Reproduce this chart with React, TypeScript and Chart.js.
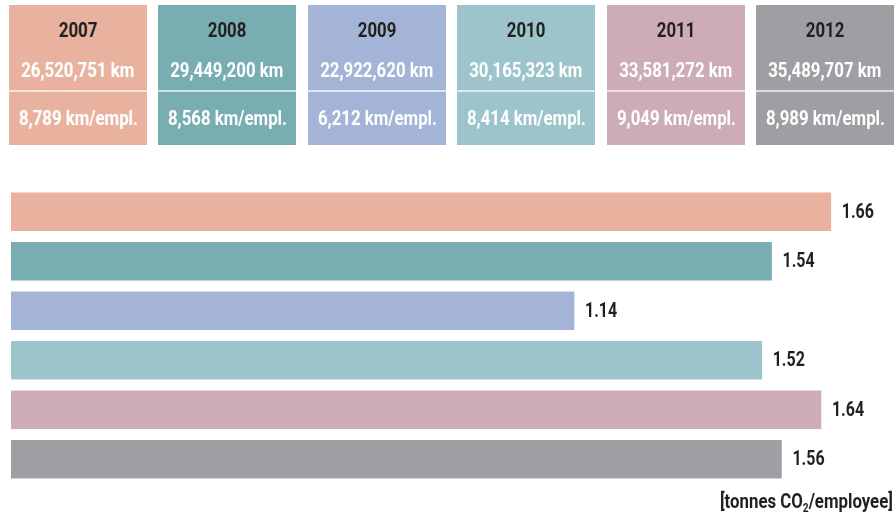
import React, { useEffect, useRef } from "react";
import { Chart, registerables } from "chart.js";

Chart.register(...registerables);

const years = ["2007", "2008", "2009", "2010", "2011", "2012"];
const totalKm = ["26,520,751 km", "29,449,200 km", "22,922,620 km", "30,165,323 km", "33,581,272 km", "35,489,707 km"];
const kmPerEmployee = ["8,789 km/empl.", "8,568 km/empl.", "6,212 km/empl.", "8,414 km/empl.", "9,049 km/empl.", "8,989 km/empl."];
const co2PerEmployee = [1.66, 1.54, 1.14, 1.52, 1.64, 1.56];
const colors = ["#E8B29E", "#78ADB2", "#A3B4D6", "#9DC4CB", "#CDACB6", "#9E9FA3"];

const FONT = 'Roboto, "Liberation Sans", sans-serif';
const SQUEEZE = 0.8;

const valueLabels = {
  id: "valueLabels",
  afterDatasetsDraw(chart: any) {
    const ctx = chart.ctx;
    const meta = chart.getDatasetMeta(0);
    ctx.save();
    ctx.font = `bold 20px ${FONT}`;
    ctx.fillStyle = "#231F20";
    ctx.textAlign = "left";
    ctx.textBaseline = "middle";
    meta.data.forEach((el: any, i: number) => {
      ctx.save();
      ctx.translate(el.x + 11, el.y + 1);
      ctx.scale(SQUEEZE, 1);
      ctx.fillText(co2PerEmployee[i].toFixed(2), 0, 0);
      ctx.restore();
    });
    ctx.restore();
  },
};

function Squeezed(props: { text: string; top: number; size: number; color: string }) {
  return (
    <div style={{ position: "absolute", top: props.top, left: 0, width: "100%", height: 24, display: "flex", justifyContent: "center", whiteSpace: "nowrap" }}>
      <span style={{ display: "inline-block", fontSize: props.size, lineHeight: "24px", color: props.color, transform: `scaleX(${SQUEEZE})`, transformOrigin: "center" }}>
        {props.text}
      </span>
    </div>
  );
}

export default function App() {
  const ref = useRef<HTMLCanvasElement>(null);
  useEffect(() => {
    if (!ref.current) return;
    const chart = new Chart(ref.current, {
      type: "bar",
      data: {
        labels: years,
        datasets: [
          {
            data: co2PerEmployee,
            backgroundColor: colors,
            borderWidth: 0,
            barThickness: 38,
          },
        ],
      },
      options: {
        indexAxis: "y",
        animation: false,
        responsive: false,
        maintainAspectRatio: false,
        layout: { padding: { left: 11, right: 1, top: 187, bottom: 40 } },
        plugins: { legend: { display: false }, tooltip: { enabled: false } },
        scales: {
          x: { display: false, min: 0, max: 1.79 },
          y: { display: false },
        },
      },
      plugins: [valueLabels],
    });
    return () => chart.destroy();
  }, []);

  return (
    <div style={{ position: "fixed", left: 0, top: 0, width: 896, height: 524, background: "#fff", fontFamily: FONT, fontWeight: "bold" }}>
      <canvas ref={ref} width={896} height={524} style={{ position: "absolute", left: 0, top: 0 }} />
      {years.map((y, i) => (
        <div
          key={y}
          style={{
            position: "absolute",
            left: Math.round(9 + i * 149.4),
            top: 5,
            width: 138,
            height: 140,
            background: colors[i],
          }}
        >
          <Squeezed text={y} top={13} size={21} color="#231F20" />
          <Squeezed text={totalKm[i]} top={53} size={21} color="#fff" />
          <div style={{ position: "absolute", top: 85, left: 0, width: "100%", height: 2, background: "rgba(255,255,255,0.65)" }} />
          <Squeezed text={kmPerEmployee[i]} top={101} size={21} color="#fff" />
        </div>
      ))}
      <div style={{ position: "absolute", right: 3, top: 489, height: 24, whiteSpace: "nowrap" }}>
        <span style={{ display: "inline-block", fontSize: 20, lineHeight: "24px", color: "#231F20", transform: "scaleX(0.84)", transformOrigin: "right center" }}>
          [tonnes CO<sub style={{ fontSize: 12, verticalAlign: -4, lineHeight: 0 }}>2</sub>/employee]
        </span>
      </div>
    </div>
  );
}
